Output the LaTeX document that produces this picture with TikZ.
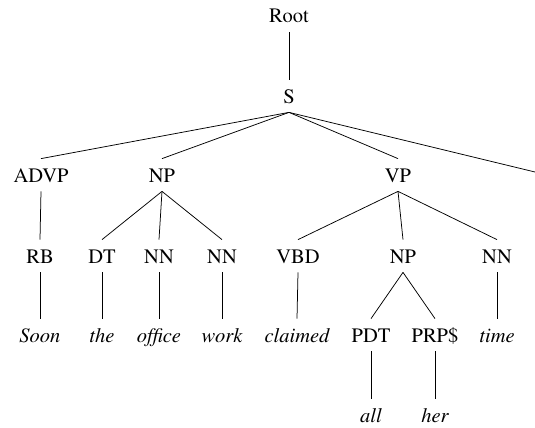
\documentclass[tikz,border=0pt]{standalone}
\usepackage[T1]{fontenc}
\usepackage{times}
\tikzset{
  tag/.style={anchor=base,inner xsep=1pt,inner ysep=9pt,text height=14pt,text depth=0pt,font=\rmfamily\fontsize{20.5}{24}\selectfont},
  word/.style={tag,font=\rmfamily\fontsize{20.5}{24}\selectfont\itshape}
}
\begin{document}
\begin{tikzpicture}[x=1pt,y=-1pt,line width=0.75pt]
\useasboundingbox (0,0) rectangle (535,428);
\node[tag] (root) at (289,23) {Root};
\node[tag] (s) at (289,103) {S};
\node[tag] (advp) at (41,182) {ADVP};
\node[tag] (np1) at (162,182) {NP};
\node[tag] (vp) at (398,182) {VP};
\coordinate (cut) at (535,172);
\node[tag] (rb) at (40,263) {RB};
\node[tag] (dt) at (102,263) {DT};
\node[tag] (nn1) at (159,263) {NN};
\node[tag] (nn2) at (222,263) {NN};
\node[tag] (vbd) at (298,263) {VBD};
\node[tag] (np2) at (403,263) {NP};
\node[tag] (nn3) at (497,263) {NN};
\node[word] (soon) at (40,342) {Soon};
\node[word] (the) at (102,342) {the};
\node[word] (office) at (159,342) {office};
\node[word] (work) at (222,342) {work};
\node[word] (claimed) at (297,342) {claimed};
\node[tag] (pdt) at (371,342) {PDT};
\node[tag] (prp) at (435,342) {PRP\$};
\node[word] (time) at (497,342) {time};
\node[word] (all) at (371,422) {all};
\node[word] (her) at (435,422) {her};

\draw (root.south)--(s.north);
\draw (s.south)--(advp.north);
\draw (s.south)--(np1.north);
\draw (s.south)--(vp.north);
\draw (s.south)--(cut);
\draw (advp.south)--(rb.north);
\draw (np1.south)--(dt.north);
\draw (np1.south)--(nn1.north);
\draw (np1.south)--(nn2.north);
\draw (vp.south)--(vbd.north);
\draw (vp.south)--(np2.north);
\draw (vp.south)--(nn3.north);
\draw (rb.south)--(soon.north);
\draw (dt.south)--(the.north);
\draw (nn1.south)--(office.north);
\draw (nn2.south)--(work.north);
\draw (vbd.south)--(claimed.north);
\draw (np2.south)--(pdt.north);
\draw (np2.south)--(prp.north);
\draw (nn3.south)--(time.north);
\draw (pdt.south)--(all.north);
\draw (prp.south)--(her.north);
\end{tikzpicture}
\end{document}
